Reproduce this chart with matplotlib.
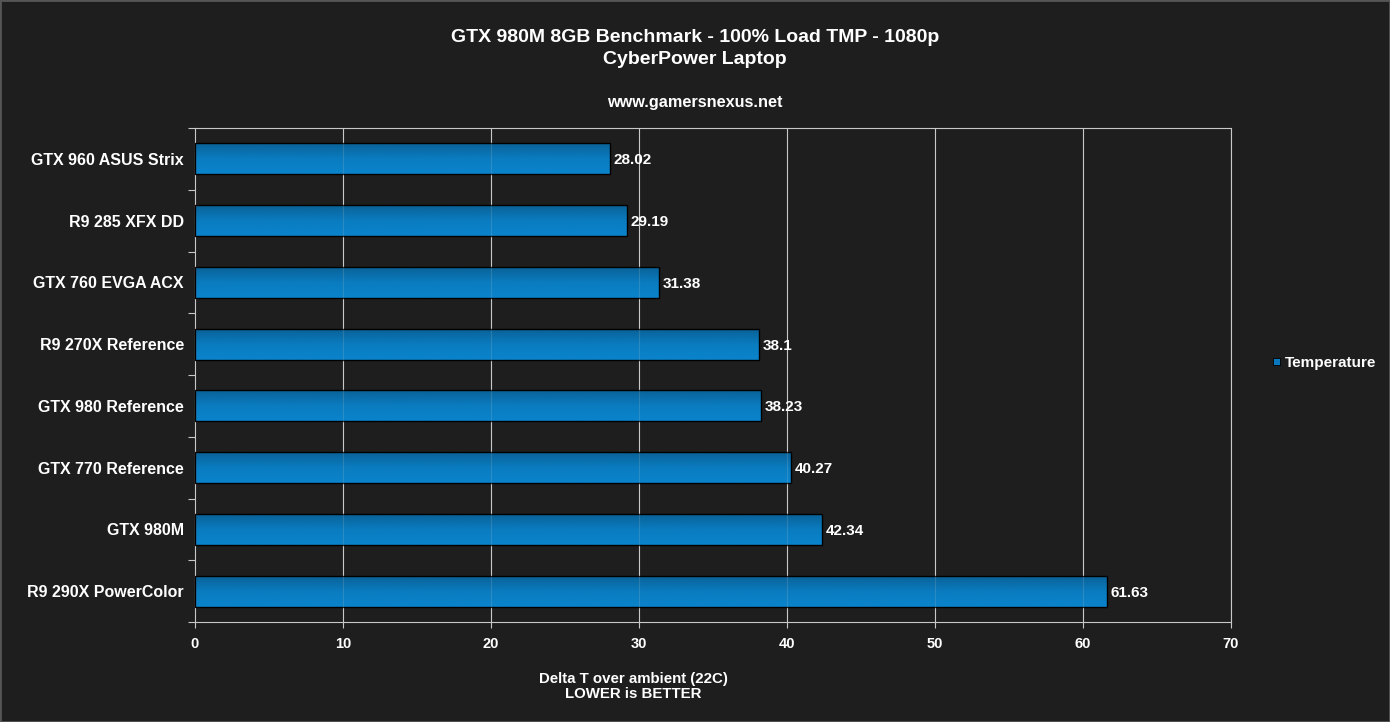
import numpy as np
import matplotlib
matplotlib.use("Agg")
from matplotlib import pyplot as plt
from matplotlib.colors import LinearSegmentedColormap

# data (top to bottom)
cards = [
    "GTX 960 ASUS Strix",
    "R9 285 XFX DD",
    "GTX 760 EVGA ACX",
    "R9 270X Reference",
    "GTX 980 Reference",
    "GTX 770 Reference",
    "GTX 980M",
    "R9 290X PowerColor",
]
temps = [28.02, 29.19, 31.38, 38.1, 38.23, 40.27, 42.34, 61.63]
x_ticks = [0, 10, 20, 30, 40, 50, 60, 70]

BG = "#1e1e1e"
GRID = "#c8c8c8"
plt.rcParams["font.family"] = ["Liberation Sans", "DejaVu Sans"]
plt.rcParams["font.weight"] = "bold"

fig = plt.figure(figsize=(13.9, 7.22), dpi=100, facecolor=BG)
ax = fig.add_axes([195 / 1390, 1 - 622 / 722, (1231 - 195) / 1390, (622 - 128) / 722])
ax.set_facecolor(BG)

n = len(cards)
ypos = np.arange(n)
bar_h = 0.5

# vertical grid (behind bars, plus a faint copy showing through them)
for x in x_ticks[1:]:
    ax.axvline(x, color=GRID, lw=0.8, zorder=1)
    ax.axvline(x, color=GRID, lw=0.8, alpha=0.18, zorder=3.5)

# gradient bars
cmap = LinearSegmentedColormap.from_list("bar", ["#0a6298", "#0a7cc0", "#0a84cc"])
grad = np.linspace(0, 1, 64).reshape(-1, 1)
for y, v in zip(ypos, temps):
    ax.imshow(grad, cmap=cmap, aspect="auto", interpolation="bilinear",
              extent=(0, v, y + bar_h / 2, y - bar_h / 2), zorder=2)
    ax.add_patch(plt.Rectangle((0, y - bar_h / 2), v, bar_h, fill=False,
                               edgecolor="black", lw=1, zorder=3))
    ax.text(v + 0.25, y, f"{v:g}", color="white", fontsize=11, fontweight="bold",
            va="center_baseline", ha="left", zorder=4)
ax.set_xlim(0, 70)
ax.set_ylim(n - 0.5, -0.5)

ax.set_yticks(ypos)
ax.set_yticklabels(cards, color="white", fontsize=11.5, fontweight="bold",
                   va="center_baseline")
ax.set_yticks(np.arange(n + 1) - 0.5, minor=True)
ax.tick_params(axis="y", which="major", length=0, pad=8)
ax.tick_params(axis="y", which="minor", length=5, color=GRID, width=0.8)

ax.set_xticks(x_ticks)
ax.set_xticklabels([str(t) for t in x_ticks], color="white", fontsize=10.5, fontweight="bold")
ax.tick_params(axis="x", length=4, color=GRID, width=0.8, pad=7)

for side in ["left", "bottom", "top", "right"]:
    ax.spines[side].set_color(GRID)
    ax.spines[side].set_linewidth(0.8)

# titles
fig.text(0.5, 1 - 36 / 722, "GTX 980M 8GB Benchmark - 100% Load TMP - 1080p",
         color="white", fontsize=14, fontweight="bold", ha="center", va="center_baseline")
fig.text(0.5, 1 - 57 / 722, "CyberPower Laptop",
         color="white", fontsize=14, fontweight="bold", ha="center", va="center_baseline")
fig.text(0.5, 1 - 101 / 722, "www.gamersnexus.net",
         color="white", fontsize=11.7, fontweight="bold", ha="center", va="center_baseline")

fig.text(633 / 1390, 1 - 677 / 722, "Delta T over ambient (22C)",
         color="white", fontsize=10.8, fontweight="bold", ha="center", va="center_baseline")
fig.text(633 / 1390, 1 - 693 / 722, "LOWER is BETTER",
         color="white", fontsize=10.8, fontweight="bold", ha="center", va="center_baseline")

# legend
fig.patches.append(plt.Rectangle((1273 / 1390, 1 - 365 / 722), 7 / 1390, 7 / 722,
                                 transform=fig.transFigure, facecolor="#0a78bc",
                                 edgecolor="black", lw=0.6))
fig.text(1285 / 1390, 1 - 361 / 722, "Temperature", color="white", fontsize=11,
         fontweight="bold", ha="left", va="center_baseline")

# outer border
fig.patches.append(plt.Rectangle((0, 0), 1, 1, transform=fig.transFigure,
                                 fill=False, edgecolor="#555555", lw=2))

fig.savefig("out.png", dpi=100, facecolor=BG)
